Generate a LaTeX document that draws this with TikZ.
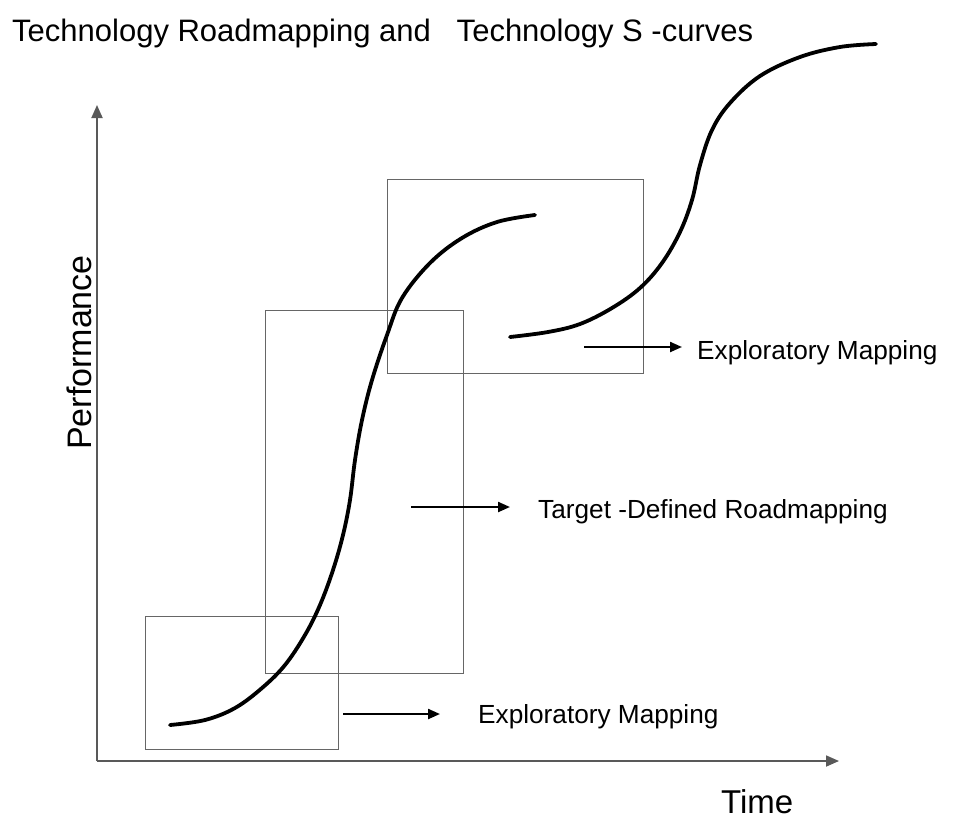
\documentclass[tikz,border=0pt]{standalone}
\usepackage{fontspec}
\setmainfont{Liberation Sans}
\usetikzlibrary{arrows.meta}
\begin{document}
\begin{tikzpicture}[x=1pt, y=-1pt,
  axis/.style={draw=black!65, line width=1.8pt, -{Triangle[length=13pt,width=11pt]}},
  mapbox/.style={draw=black!60, line width=0.9pt},
  scurve/.style={line width=3.8pt, line cap=round, line join=round},
  pointer/.style={line width=2.2pt, -{Triangle[length=12pt,width=10pt]}},
  lbl/.style={font=\fontsize{26.2}{30}\selectfont, anchor=base west, inner sep=0pt}]
  \useasboundingbox (0,0) rectangle (960,825);

  % Title
  \node[anchor=base west, inner sep=0pt, font=\fontsize{31}{36}\selectfont] (title) at (12,41)
      {Technology Roadmapping and\ \ \ Technology S -curves};

  % Axes
  \coordinate (origin) at (97,761);
  \coordinate (ytop) at (97,105);
  \coordinate (xend) at (839,761);
  \draw[axis] (origin) -- (ytop);
  \draw[axis] (origin) -- (xend);
  \node[rotate=90, anchor=base west, inner sep=0pt, font=\fontsize{34}{40}\selectfont] (perf) at (91,450) {Performance};
  \node[anchor=base west, inner sep=0pt, font=\fontsize{33}{40}\selectfont] (time) at (721,813) {Time};

  % Mapping boxes
  \draw[mapbox] (145,616) rectangle (338,749);
  \draw[mapbox] (265,310) rectangle (463,673);
  \draw[mapbox] (387,179) rectangle (643,373);

  % First S-curve
  \draw[scurve] plot[smooth, tension=0.6] coordinates {
    (170,725) (205,720) (235,708) (262,688) (285,665) (305,635) (320,605)
    (333,570) (343,535) (350,500) (355,460) (362,420) (372,380) (387,335)
    (402,298) (430,263) (462,238) (497,222) (535,215)};

  % Second S-curve
  \draw[scurve] plot[smooth, tension=0.6] coordinates {
    (510,337) (548,332) (580,324) (612,308) (640,288) (662,263) (680,232)
    (692,200) (700,165) (712,130) (730,103) (760,76) (800,57) (840,47) (876,44)};

  % Labels
  \node[lbl] (explow) at (478,723) {Exploratory Mapping};
  \node[lbl] (target) at (538,518) {Target -Defined Roadmapping};
  \node[lbl] (exphigh) at (697,359) {Exploratory Mapping};

  % Pointers
  \coordinate (explowA) at (343,714);
  \coordinate (explowB) at (440,714);
  \coordinate (targetA) at (411,507);
  \coordinate (targetB) at (510,507);
  \coordinate (exphighA) at (584,347);
  \coordinate (exphighB) at (682,347);
  \draw[pointer] (explowA) -- (explowB);
  \draw[pointer] (targetA) -- (targetB);
  \draw[pointer] (exphighA) -- (exphighB);
\end{tikzpicture}
\end{document}
